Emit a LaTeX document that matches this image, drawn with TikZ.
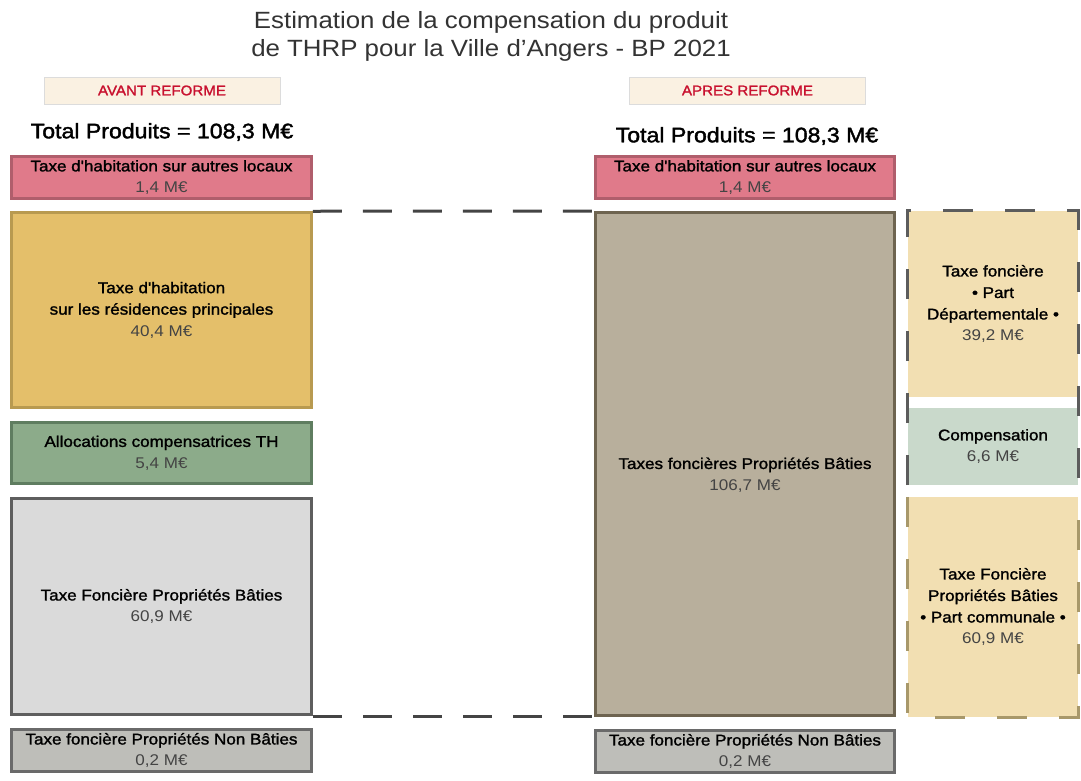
\documentclass[tikz,border=0pt]{standalone}
\usepackage{fontspec}
\setmainfont{Liberation Sans}
\newfontfamily\widefont[FakeStretch=1.1]{Liberation Sans}
\newfontfamily\headfont[FakeStretch=1.08,FakeBold=1.5]{Liberation Sans}
\newfontfamily\lblfont[FakeStretch=1.1,FakeBold=1.5]{Liberation Sans}
\newfontfamily\totfont[FakeStretch=1.1,FakeBold=1.8]{Liberation Sans}
\definecolor{titlecol}{HTML}{333333}
\definecolor{headfill}{HTML}{FAF1E2}
\definecolor{headdraw}{HTML}{DCDCDC}
\definecolor{headtext}{HTML}{C8102E}
\definecolor{pinkfill}{HTML}{E07A8A}
\definecolor{pinkdraw}{HTML}{B05E6C}
\definecolor{yelfill}{HTML}{E4BF6A}
\definecolor{yeldraw}{HTML}{B89A50}
\definecolor{grnfill}{HTML}{8CAB8A}
\definecolor{grndraw}{HTML}{5F7D60}
\definecolor{lgfill}{HTML}{DADADA}
\definecolor{lgdraw}{HTML}{5E5E5E}
\definecolor{dgfill}{HTML}{BEBEB9}
\definecolor{dgdraw}{HTML}{6A6A6A}
\definecolor{tanfill}{HTML}{B8AF9C}
\definecolor{tandraw}{HTML}{6E6450}
\definecolor{beigefill}{HTML}{F2DFB2}
\definecolor{compfill}{HTML}{C9D9CB}
\definecolor{dashgray}{HTML}{5C5C5C}
\definecolor{dashtan}{HTML}{A8986A}
\definecolor{conncol}{HTML}{444444}
\definecolor{valgray}{HTML}{444444}
\newcommand\mval[1]{{\widefont\color{valgray}#1}}
\tikzset{
  box/.style={draw, line width=2.5pt, inner sep=0pt, align=center, text=black,
    font=\lblfont\fontsize{15.5}{21.5}\selectfont},
  fbox/.style={inner sep=0pt, align=center, text=black, minimum width=170pt,
    font=\lblfont\fontsize{15.5}{21.5}\selectfont},
  headbox/.style={draw=headdraw, line width=1pt, fill=headfill, inner sep=0pt,
    minimum width=236pt, minimum height=27pt, text=headtext,
    font=\headfont\fontsize{14}{16}\selectfont},
  totlbl/.style={inner sep=0pt, text=black, font=\totfont\fontsize{21}{24}\selectfont},
  connect/.style={draw=conncol, line width=3pt, dash pattern=on 29pt off 21pt},
  grpdash/.style={line width=3pt, dash pattern=on 30pt off 32pt}
}
\begin{document}
\begin{tikzpicture}[x=1pt,y=-1pt]
\useasboundingbox (0,0) rectangle (1081,780);
% title
\node[inner sep=0pt, align=center, text=titlecol,
  font=\widefont\fontsize{23.5}{28}\selectfont] (title) at (491,36)
  {Estimation de la compensation du produit\\de THRP pour la Ville d’Angers - BP 2021};
% headings
\node[headbox] (avant) at (162,90.5) {AVANT REFORME};
\node[headbox] (apres) at (747.5,90.5) {APRES REFORME};
\node[totlbl] (totL) at (162,132) {Total Produits = 108,3 M€};
\node[totlbl] (totR) at (747,136) {Total Produits = 108,3 M€};
% left column
\node[box, fill=pinkfill, draw=pinkdraw, minimum width=300pt, minimum height=42pt] (pinkL) at (161.5,177.5)
  {Taxe d'habitation sur autres locaux\\\mval{1,4 M€}};
\node[box, fill=yelfill, draw=yeldraw, minimum width=300pt, minimum height=195pt] (thrp) at (161.5,310)
  {Taxe d'habitation\\sur les résidences principales\\\mval{40,4 M€}};
\node[box, fill=grnfill, draw=grndraw, minimum width=300pt, minimum height=61pt] (alloc) at (161.5,453)
  {Allocations compensatrices TH\\\mval{5,4 M€}};
\node[box, fill=lgfill, draw=lgdraw, line width=3pt, minimum width=300pt, minimum height=216pt] (tfpbL) at (161.5,606.5)
  {Taxe Foncière Propriétés Bâties\\\mval{60,9 M€}};
\node[box, fill=dgfill, draw=dgdraw, minimum width=300pt, minimum height=42pt] (tfnbL) at (161.5,750.5)
  {Taxe foncière Propriétés Non Bâties\\\mval{0,2 M€}};
% right column
\node[box, fill=pinkfill, draw=pinkdraw, minimum width=299pt, minimum height=42pt] (pinkR) at (745,177.5)
  {Taxe d'habitation sur autres locaux\\\mval{1,4 M€}};
\node[box, fill=tanfill, draw=tandraw, line width=3pt, minimum width=299pt, minimum height=503pt] (tfpbR) at (745,464)
  {};
\node[inner sep=0pt, align=center, font=\lblfont\fontsize{15.5}{21.5}\selectfont] (tfpbRlbl) at (745,475)
  {Taxes foncières Propriétés Bâties\\\mval{106,7 M€}};
\node[box, fill=dgfill, draw=dgdraw, minimum width=299pt, minimum height=42pt] (tfnbR) at (745,751.5)
  {Taxe foncière Propriétés Non Bâties\\\mval{0,2 M€}};
% far right
\node[fbox, fill=beigefill, minimum height=186pt] (dept) at (993,304)
  {Taxe foncière\\• Part\\Départementale •\\\mval{39,2 M€}};
\node[fbox, fill=compfill, minimum height=77pt] (comp) at (993,446.5)
  {Compensation\\\mval{6,6 M€}};
\node[fbox, fill=beigefill, minimum height=220pt] (comm) at (993,607)
  {Taxe Foncière\\Propriétés Bâties\\• Part communale •\\\mval{60,9 M€}};
\draw[grpdash, draw=dashgray] (comp.south west) -- (dept.north west) -- (dept.north east) -- (comp.south east);
\draw[grpdash, draw=dashtan] (comm.north west) -- (comm.south west) -- (comm.south east) -- (comm.north east);
% connectors
\draw[connect] (thrp.north east) -- (tfpbR.north west);
\draw[connect] (tfpbL.south east) -- (tfpbL.south east -| tfpbR.south west);
\end{tikzpicture}
\end{document}
